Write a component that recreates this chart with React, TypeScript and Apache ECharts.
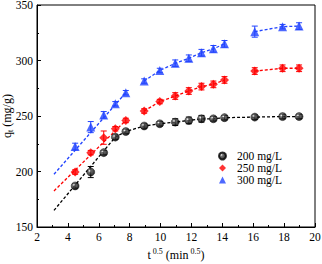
import React, { useEffect, useRef } from "react";
import * as echarts from "echarts";

const xs = [4.47, 5.48, 6.32, 7.07, 7.75, 8.94, 9.95, 10.95, 11.83, 12.65, 13.42, 14.14, 16.1, 17.9, 18.97];
const q200 = [187, 199.5, 217, 231, 236, 241, 243, 244.5, 246, 247.5, 247.5, 248.5, 249, 249.5, 249.5];
const q250 = [199.5, 217, 230.5, 238.5, 246, 254.5, 263, 268, 272.5, 276.5, 278.5, 282.5, 290.5, 293, 293];
const q300 = [222.5, 240, 251, 261, 271, 281.5, 291, 297.5, 302, 307, 310.5, 315, 326, 330.5, 331];
const e200 = [2, 5, 2, 2, 2, 2, 2, 3, 3, 3, 2, 2, 2, 2, 2];
const e250 = [2, 2, 6, 2, 2, 2, 2, 3, 3, 3, 3, 3, 3, 3, 3];
const e300 = [3, 5, 3, 2, 2, 2, 2, 3, 3, 3, 3, 3, 5, 2, 3];
// stage-1 fitted line endpoints [x, q]
const fit200 = [[3.1, 165], [7.07, 231]];
const fit250 = [[3.1, 182.5], [7.75, 246]];
const fit300 = [[3.1, 197.5], [7.75, 271]];
const names = ["200 mg/L", "250 mg/L", "300 mg/L"];
const colors = ["#000000", "#ff0000", "#2244ff"];

const FONT = "Liberation Serif";

function pts(ys: number[], from: number, to: number) {
  const out: number[][] = [];
  for (let i = from; i <= to; i++) out.push([xs[i], ys[i]]);
  return out;
}

function dashed(data: number[][], color: string) {
  return {
    type: "line",
    data,
    symbol: "none",
    silent: true,
    lineStyle: { color, width: 1.3, type: [3, 2] },
    z: 1,
  };
}

function errBars(ys: number[], es: number[], color: string) {
  return {
    type: "custom",
    silent: true,
    z: 2,
    data: xs.map((x, i) => [x, ys[i] - es[i], ys[i] + es[i]]),
    renderItem: (params: any, api: any) => {
      const lo = api.coord([api.value(0), api.value(1)]);
      const hi = api.coord([api.value(0), api.value(2)]);
      const w = 3;
      const st = { stroke: color, lineWidth: 1 };
      return {
        type: "group",
        children: [
          { type: "line", shape: { x1: lo[0], y1: lo[1], x2: hi[0], y2: hi[1] }, style: st },
          { type: "line", shape: { x1: lo[0] - w, y1: lo[1], x2: lo[0] + w, y2: lo[1] }, style: st },
          { type: "line", shape: { x1: hi[0] - w, y1: hi[1], x2: hi[0] + w, y2: hi[1] }, style: st },
        ],
      };
    },
  };
}

export default function App() {
  const ref = useRef<HTMLDivElement>(null);
  useEffect(() => {
    const chart = echarts.init(ref.current!, null, { renderer: "svg" });
    const ballFill = new echarts.graphic.RadialGradient(0.35, 0.35, 0.6, [
      { offset: 0, color: "#ffffff" },
      { offset: 0.3, color: "#555555" },
      { offset: 1, color: "#000000" },
    ]);
    const axisCommon = {
      axisLine: { lineStyle: { color: "#000", width: 1 } },
      axisTick: { inside: true, length: 4, lineStyle: { color: "#000" } },
      minorTick: { show: true, splitNumber: 2, length: 2, lineStyle: { color: "#000" } },
      splitLine: { show: false },
      axisLabel: { color: "#000", fontFamily: FONT, fontSize: 11.5 },
    };
    chart.setOption({
      animation: false,
      grid: {
        left: 37, right: 7, top: 5, bottom: 37,
        containLabel: false, outerBoundsMode: "none",
        show: true, borderColor: "#000", borderWidth: 1,
      },
      xAxis: {
        type: "value",
        min: 2,
        max: 20,
        interval: 2,
        ...axisCommon,
        axisLabel: { ...axisCommon.axisLabel, margin: 4 },
        name: "{a|t}{s| 0.5}{a| (min}{s| 0.5}{a|)}",
        nameLocation: "middle",
        nameGap: 19,
        nameTextStyle: {
          rich: {
            a: { fontFamily: FONT, fontSize: 12, color: "#000", lineHeight: 14 },
            s: { fontFamily: FONT, fontSize: 8, color: "#000", padding: [0, 0, 6, 0], lineHeight: 14 },
          },
        },
      },
      yAxis: {
        type: "value",
        min: 150,
        max: 350,
        interval: 50,
        ...axisCommon,
        axisLabel: { ...axisCommon.axisLabel, margin: 4 },
        name: "{a|q}{s|t}{a| (mg/g)}",
        nameLocation: "middle",
        nameGap: 23,
        nameMoveOverlap: false,
        nameRotate: 90,
        nameTextStyle: {
          rich: {
            a: { fontFamily: FONT, fontSize: 12, color: "#000", lineHeight: 14 },
            s: { fontFamily: FONT, fontSize: 8, color: "#000", padding: [6, 0, 0, 0], lineHeight: 14 },
          },
        },
      },
      legend: {
        orient: "vertical",
        left: 213,
        top: 145,
        itemGap: 0,
        itemWidth: 7,
        itemHeight: 7,
        data: names,
        textStyle: { fontFamily: FONT, fontSize: 11.5, color: "#000", padding: [0, 0, 0, 6] },
      },
      series: [
        dashed([...fit200, ...pts(q200, 3, 14)], colors[0]),
        dashed(fit250, colors[1]),
        dashed(pts(q250, 5, 11), colors[1]),
        dashed(pts(q250, 12, 14), colors[1]),
        dashed(fit300, colors[2]),
        dashed(pts(q300, 5, 11), colors[2]),
        dashed(pts(q300, 12, 14), colors[2]),
        errBars(q200, e200, colors[0]),
        errBars(q250, e250, colors[1]),
        errBars(q300, e300, colors[2]),
        {
          name: names[0],
          type: "scatter",
          data: xs.map((x, i) => [x, q200[i]]),
          symbol: "circle",
          symbolSize: 8,
          itemStyle: { color: ballFill, borderColor: "#000", borderWidth: 0.5 },
          z: 3,
        },
        {
          name: names[1],
          type: "scatter",
          data: xs.map((x, i) => [x, q250[i]]),
          symbol: "diamond",
          symbolSize: 9,
          itemStyle: { color: colors[1] },
          z: 3,
        },
        {
          name: names[2],
          type: "scatter",
          data: xs.map((x, i) => [x, q300[i]]),
          symbol: "triangle",
          symbolSize: 9,
          itemStyle: { color: colors[2] },
          z: 3,
        },
      ],
    });
    return () => chart.dispose();
  }, []);
  return <div ref={ref} style={{ position: "absolute", left: 0, top: 0, width: 322, height: 264 }} />;
}
